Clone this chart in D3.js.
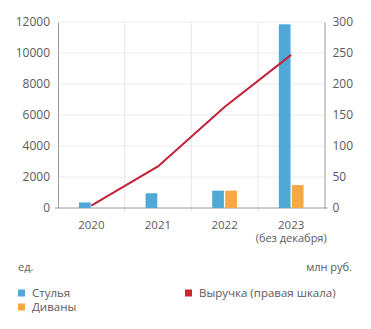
<!DOCTYPE html>
<html><head><meta charset="utf-8">
<script src="https://cdn.jsdelivr.net/npm/d3@7"></script>
<style>body{margin:0;background:#fff}svg{display:block}text{font-family:"Open Sans",sans-serif;fill:#5a5a5a}</style>
</head><body>
<script>
const categories = ["2020","2021","2022","2023"];
const subLabels = ["","","","(без декабря)"];
const chairs = [360, 950, 1120, 11850];
const sofas = [0, 0, 1120, 1480];
const revenue = [4, 67, 163, 247];
const leftTicks = [0,2000,4000,6000,8000,10000,12000];
const rightTicks = [0,50,100,150,200,250,300];

const W=371,H=329;
const svg=d3.select("body").append("svg").attr("width",W).attr("height",H);
const L=58,R=324.5,T=22,B=208;
const x=d3.scaleBand().domain(categories).range([L,R]);
const yL=d3.scaleLinear().domain([0,12000]).range([B,T]);
const yR=d3.scaleLinear().domain([0,300]).range([B,T]);

// grid
svg.append("g").selectAll("line").data(leftTicks.slice(1)).join("line")
  .attr("x1",L).attr("x2",R).attr("y1",d=>yL(d)).attr("y2",d=>yL(d))
  .attr("stroke","#ececec").attr("stroke-width",1);
svg.append("g").selectAll("line").data(categories.slice(1)).join("line")
  .attr("x1",d=>x(d)).attr("x2",d=>x(d)).attr("y1",T).attr("y2",B+4)
  .attr("stroke","#e6e6e6").attr("stroke-width",1);

// axes
const axL=d3.axisLeft(yL).tickValues(leftTicks).tickFormat(d3.format("d")).tickSize(0).tickPadding(8);
const gL=svg.append("g").attr("transform",`translate(${L},0)`).call(axL);
gL.select(".domain").attr("stroke","#9a9a9a");
gL.selectAll("text").style("font-size","12px").attr("fill","#5a5a5a");
const axR=d3.axisRight(yR).tickValues(rightTicks).tickFormat(d3.format("d")).tickSize(0).tickPadding(8);
const gR=svg.append("g").attr("transform",`translate(${R},0)`).call(axR);
gR.select(".domain").attr("stroke","#9a9a9a");
gR.selectAll("text").style("font-size","12px").attr("fill","#5a5a5a");
svg.append("line").attr("x1",L-3).attr("x2",R+3).attr("y1",B).attr("y2",B).attr("stroke","#9a9a9a");

// bars
const bw=11.7, gap=1.3;
const cx=d=>x(d)+x.bandwidth()/2;
svg.append("g").selectAll("rect").data(categories).join("rect")
  .attr("x",(d)=>cx(d)-gap/2-bw).attr("width",bw)
  .attr("y",(d,i)=>yL(chairs[i])).attr("height",(d,i)=>B-yL(chairs[i]))
  .attr("fill","#4ea9d6");
svg.append("g").selectAll("rect").data(categories).join("rect")
  .attr("x",(d)=>cx(d)+gap/2).attr("width",bw)
  .attr("y",(d,i)=>yL(sofas[i])).attr("height",(d,i)=>B-yL(sofas[i]))
  .attr("fill","#f6a844");

// line
const line=d3.line().x((d,i)=>cx(categories[i])).y(d=>yR(d));
svg.append("path").datum(revenue).attr("d",line).attr("fill","none")
  .attr("stroke","#c3213a").attr("stroke-width",2);

// x labels
svg.append("g").selectAll("text").data(categories).join("text")
  .attr("x",d=>cx(d)).attr("y",228.5).attr("text-anchor","middle").style("font-size","11.5px").text(d=>d);
svg.append("g").selectAll("text").data(subLabels).join("text")
  .attr("x",(d,i)=>cx(categories[i])).attr("y",242).attr("text-anchor","middle").style("font-size","11px").text(d=>d);

svg.append("text").attr("x",18).attr("y",271).style("font-size","11px").text("ед.");
svg.append("text").attr("x",352).attr("y",271).attr("text-anchor","end").style("font-size","11px").text("млн руб.");

// legend
const legend=[{t:"Стулья",c:"#4ea9d6",x:18,y:293},{t:"Диваны",c:"#f6a844",x:18,y:307},{t:"Выручка (правая шкала)",c:"#c8262c",x:185,y:293}];
const lg=svg.append("g").selectAll("g").data(legend).join("g");
lg.append("rect").attr("x",d=>d.x).attr("y",d=>d.y-3.5).attr("width",7).attr("height",7).attr("fill",d=>d.c);
lg.append("text").attr("x",d=>d.x+14).attr("y",d=>d.y+4).style("font-size","11.5px").text(d=>d.t);
</script>
</body></html>
